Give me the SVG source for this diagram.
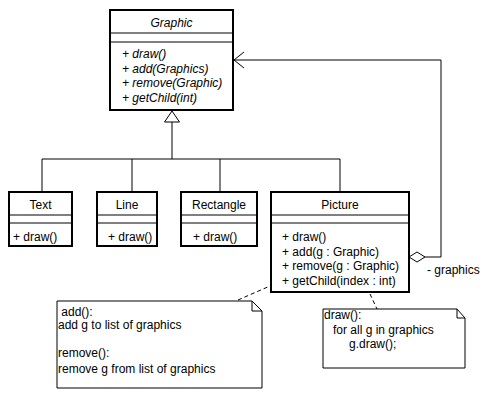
<svg xmlns="http://www.w3.org/2000/svg" width="486" height="400" viewBox="0 0 486 400">
<style>
text{font-family:"Liberation Sans",Arial,sans-serif;font-size:12px;fill:#000}
.i{font-style:italic}
.c{text-anchor:middle}
.box{fill:#fff;stroke:#000;stroke-width:2}
.sep{stroke:#000;stroke-width:1}
.ln{fill:none;stroke:#000;stroke-width:1}
.dash{fill:none;stroke:#000;stroke-width:1;stroke-dasharray:4,3}
.note{fill:#fff;stroke:#000;stroke-width:1}
</style>
<rect width="486" height="400" fill="#fff"/>
<g id="connectors">
<polyline class="ln" points="42,192 42,159 340,159 340,192"/>
<line class="ln" x1="132" y1="159" x2="132" y2="192"/>
<line class="ln" x1="220" y1="159" x2="220" y2="192"/>
<line class="ln" x1="172" y1="159" x2="172" y2="122"/>
<polygon points="172,111 164.5,122 179.5,122" fill="#fff" stroke="#000" stroke-width="1"/>
<polyline class="ln" points="425,257 441,257 441,60 234,60"/>
<polyline class="ln" points="244,52 234,60 244,68"/>
<polygon points="409,257 417,252 425,257 417,262" fill="#fff" stroke="#000" stroke-width="1"/>
<text x="427" y="274">- graphics</text>
<line class="dash" x1="238" y1="300" x2="270" y2="286"/>
<line class="dash" x1="370" y1="294" x2="377" y2="309"/>
</g>
<g id="Graphic">
<rect class="box" x="110" y="10" width="123" height="100"/>
<line class="sep" x1="110" y1="33" x2="233" y2="33"/>
<line class="sep" x1="110" y1="42" x2="233" y2="42"/>
<text class="i c" x="171.5" y="27">Graphic</text>
<text class="i" x="122" y="58">+ draw()</text>
<text class="i" x="122" y="73">+ add(Graphics)</text>
<text class="i" x="122" y="87">+ remove(Graphic)</text>
<text class="i" x="122" y="102">+ getChild(int)</text>
</g>
<g id="Text">
<rect class="box" x="9" y="192" width="63" height="54"/>
<line class="sep" x1="9" y1="215" x2="72" y2="215"/>
<line class="sep" x1="9" y1="223" x2="72" y2="223"/>
<text class="c" x="40.5" y="209">Text</text>
<text x="13" y="241">+ draw()</text>
</g>
<g id="Line">
<rect class="box" x="97" y="192" width="60" height="54"/>
<line class="sep" x1="97" y1="215" x2="157" y2="215"/>
<line class="sep" x1="97" y1="223" x2="157" y2="223"/>
<text class="c" x="127" y="209">Line</text>
<text x="108" y="241">+ draw()</text>
</g>
<g id="Rectangle">
<rect class="box" x="181" y="192" width="76" height="54"/>
<line class="sep" x1="181" y1="215" x2="257" y2="215"/>
<line class="sep" x1="181" y1="223" x2="257" y2="223"/>
<text class="c" x="219" y="209">Rectangle</text>
<text x="193" y="241">+ draw()</text>
</g>
<g id="Picture">
<rect class="box" x="271" y="192" width="138" height="100"/>
<line class="sep" x1="271" y1="215" x2="409" y2="215"/>
<line class="sep" x1="271" y1="223" x2="409" y2="223"/>
<text class="c" x="340" y="209">Picture</text>
<text x="282" y="241">+ draw()</text>
<text x="282" y="256">+ add(g : Graphic)</text>
<text x="282" y="270">+ remove(g : Graphic)</text>
<text x="282" y="285">+ getChild(index : int)</text>
</g>
<g id="note1">
<path class="note" d="M57,301 H252 L262,311 V388 H57 Z"/>
<polyline class="ln" points="252,301 252,311 262,311"/>
<text x="58" y="316" xml:space="preserve"> add():</text>
<text x="58" y="329">add g to list of graphics</text>
<text x="58" y="357">remove():</text>
<text x="58" y="373">remove g from list of graphics</text>
</g>
<g id="note2">
<path class="note" d="M323,309 H457 L465,318 V368 H323 Z"/>
<polyline class="ln" points="457,309 457,318 465,318"/>
<text x="324" y="319">draw():</text>
<text x="333" y="334">for all g in graphics</text>
<text x="349" y="348">g.draw();</text>
</g>
</svg>
